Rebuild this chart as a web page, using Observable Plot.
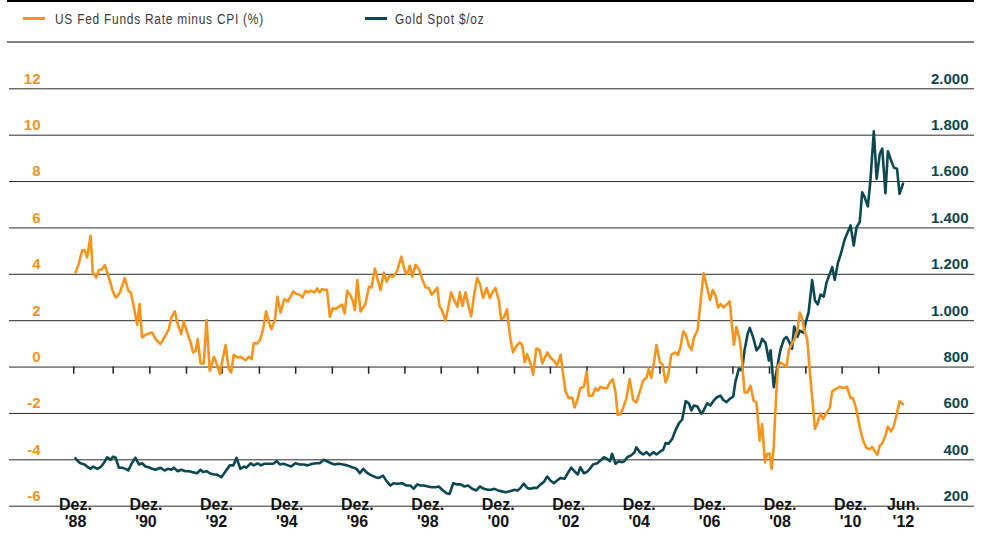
<!DOCTYPE html>
<html>
<head>
<meta charset="utf-8">
<script src="https://cdn.jsdelivr.net/npm/d3@7"></script>
<script src="https://cdn.jsdelivr.net/npm/@observablehq/plot@0.6"></script>
<style>
  body { margin: 0; background: #fff; }
  #wrap { position: relative; width: 984px; height: 542px; overflow: hidden; font-family: "Liberation Sans", Arial, sans-serif; }
  #topbar { position: absolute; left: 7px; right: 10px; top: 0; height: 2px; background: #000; }
  #legline { position: absolute; left: 7px; right: 10px; top: 41px; height: 2px; background: #808080; }
  .sw { position: absolute; top: 17px; width: 22px; height: 3px; }
  .lt { position: absolute; top: 10px; font-family: "Liberation Sans", Arial, sans-serif; font-size: 14px; letter-spacing: 0.9px; color: #3a3a3a; line-height: 18px; white-space: nowrap; transform: scaleX(0.85); transform-origin: 0 50%; }
  #chart { position: absolute; left: 0; top: 44px; }
</style>
</head>
<body>
<div id="wrap">
  <div id="topbar"></div>
  <div class="sw" style="left:23px;background:#f7941d"></div>
  <div class="lt" style="left:55px">US Fed Funds Rate minus CPI (%)</div>
  <div class="sw" style="left:365px;background:#0c4853"></div>
  <div class="lt" style="left:395px">Gold Spot $/oz</div>
  <div id="legline"></div>
  <div id="chart"></div>
</div>
<script>
const orange = "#f7941d";
const teal = "#0c4853";

// Left axis (rate, %) and right axis (gold, $/oz) tick labels
const leftTicks = [-6, -4, -2, 0, 2, 4, 6, 8, 10, 12];
const rightTickLabels = ["200", "400", "600", "800", "1.000", "1.200", "1.400", "1.600", "1.800", "2.000"];

// X axis labels (decimal years; Dez. = December)
const xLabelYears = [1988.92, 1990.92, 1992.92, 1994.92, 1996.92, 1998.92, 2000.92, 2002.92, 2004.92, 2006.92, 2008.92, 2010.92, 2012.42];
const xLabelTexts = ["Dez.\n'88", "Dez.\n'90", "Dez.\n'92", "Dez.\n'94", "Dez.\n'96", "Dez.\n'98", "Dez.\n'00", "Dez.\n'02", "Dez.\n'04", "Dez.\n'06", "Dez.\n'08", "Dez.\n'10", "Jun.\n'12"];

// Small tick marks on the zero line
const tickYears = [1988.87, 1989.99, 1991.03, 1992.07, 1993.08, 1994.14, 1995.17, 1996.21, 1997.24, 1998.27, 1999.30, 2000.34, 2001.38, 2002.40, 2003.44, 2004.48, 2005.51, 2006.55, 2007.58, 2008.62, 2009.65, 2010.68, 2011.72];

// US Fed Funds Rate minus CPI (%)
const rateYears = [1988.92,1989.01,1989.11,1989.18,1989.25,1989.35,1989.41,1989.51,1989.58,1989.68,1989.75,1989.87,1989.96,1990.03,1990.08,1990.18,1990.32,1990.42,1990.49,1990.58,1990.67,1990.74,1990.81,1990.91,1991.00,1991.10,1991.19,1991.33,1991.47,1991.57,1991.64,1991.74,1991.82,1991.92,1991.99,1992.09,1992.18,1992.26,1992.33,1992.39,1992.47,1992.56,1992.64,1992.73,1992.85,1992.94,1993.02,1993.08,1993.18,1993.27,1993.34,1993.41,1993.51,1993.60,1993.75,1993.84,1993.92,1993.98,1994.08,1994.17,1994.25,1994.33,1994.41,1994.48,1994.58,1994.65,1994.74,1994.85,1994.95,1995.10,1995.19,1995.29,1995.36,1995.45,1995.51,1995.59,1995.70,1995.78,1995.85,1995.92,1995.99,1996.06,1996.14,1996.22,1996.30,1996.39,1996.49,1996.56,1996.63,1996.73,1996.80,1996.85,1996.92,1997.01,1997.15,1997.25,1997.32,1997.42,1997.48,1997.58,1997.67,1997.75,1997.84,1997.94,1998.05,1998.17,1998.27,1998.34,1998.41,1998.48,1998.57,1998.67,1998.76,1998.86,1998.95,1999.03,1999.09,1999.19,1999.25,1999.33,1999.42,1999.50,1999.58,1999.66,1999.76,1999.83,1999.90,1999.99,2000.06,2000.15,2000.23,2000.32,2000.40,2000.49,2000.59,2000.68,2000.75,2000.84,2000.94,2001.00,2001.08,2001.17,2001.25,2001.34,2001.44,2001.53,2001.60,2001.67,2001.74,2001.84,2001.91,2002.00,2002.09,2002.17,2002.31,2002.40,2002.52,2002.59,2002.69,2002.76,2002.83,2002.92,2003.02,2003.09,2003.16,2003.25,2003.35,2003.43,2003.49,2003.59,2003.68,2003.75,2003.82,2003.92,2004.01,2004.09,2004.17,2004.25,2004.31,2004.39,2004.47,2004.56,2004.65,2004.75,2004.84,2004.94,2005.03,2005.13,2005.19,2005.26,2005.34,2005.41,2005.51,2005.58,2005.67,2005.74,2005.83,2005.95,2006.02,2006.09,2006.17,2006.24,2006.33,2006.41,2006.47,2006.58,2006.66,2006.75,2006.85,2006.93,2007.01,2007.09,2007.16,2007.23,2007.31,2007.40,2007.49,2007.54,2007.61,2007.68,2007.78,2007.84,2007.91,2007.99,2008.08,2008.17,2008.25,2008.34,2008.41,2008.49,2008.55,2008.62,2008.68,2008.74,2008.81,2008.86,2008.93,2009.03,2009.10,2009.17,2009.24,2009.33,2009.41,2009.48,2009.55,2009.61,2009.69,2009.76,2009.83,2009.91,2009.98,2010.07,2010.14,2010.24,2010.33,2010.40,2010.49,2010.62,2010.71,2010.82,2010.92,2010.99,2011.09,2011.18,2011.28,2011.37,2011.47,2011.53,2011.61,2011.68,2011.75,2011.82,2011.91,2011.98,2012.07,2012.15,2012.22,2012.31,2012.41];
const rateValues = [4.08,4.44,5.04,5.04,4.73,5.66,4.08,3.86,4.18,4.22,4.40,3.86,3.36,3.07,3.00,3.22,3.84,3.29,3.22,2.57,1.82,2.72,1.28,1.39,1.45,1.49,1.21,0.99,1.35,1.64,2.14,2.40,1.85,1.42,1.97,1.49,1.10,0.63,0.70,1.21,0.16,0.16,2.03,-0.16,0.44,0.10,-0.30,0.20,0.95,-0.09,-0.23,0.53,0.41,0.44,0.30,0.44,0.34,1.02,1.02,1.21,1.68,2.40,1.92,1.64,2.03,3.03,2.35,2.93,2.83,3.26,3.15,3.12,3.00,3.29,3.22,3.29,3.22,3.39,3.22,3.36,3.33,3.33,2.17,2.54,2.50,2.60,2.69,2.31,3.29,3.07,2.82,2.46,3.75,2.40,2.72,3.46,3.43,4.25,3.86,3.32,4.08,3.68,3.94,3.89,4.15,4.76,4.12,4.01,4.37,3.89,4.41,4.23,3.79,3.43,3.41,3.12,3.22,3.43,2.64,2.43,2.00,2.57,3.22,2.93,2.60,3.22,2.64,3.22,2.74,2.18,3.07,3.84,3.58,2.98,3.41,2.98,3.22,3.41,2.86,2.07,2.14,2.50,1.35,0.63,0.92,1.06,0.96,0.20,0.56,0.13,-0.33,0.80,0.75,0.16,0.63,0.41,0.24,0.06,0.53,-0.30,-1.05,-1.34,-1.31,-1.74,-1.45,-0.91,-0.85,-0.19,-1.24,-1.24,-0.91,-1.02,-0.85,-0.91,-0.91,-0.66,-0.52,-1.10,-2.06,-2.03,-1.74,-1.34,-0.52,-1.42,-1.53,-1.05,-0.59,-0.45,-0.09,-0.47,0.20,0.95,0.20,0.13,-0.66,-0.38,0.53,0.63,0.52,0.85,1.54,1.42,0.92,0.73,1.25,1.60,2.79,4.04,3.43,2.89,3.32,3.07,2.57,2.72,2.57,2.69,2.83,2.00,0.96,1.74,1.13,0.27,-1.10,-1.10,-0.81,-1.45,-1.53,-3.18,-2.46,-4.11,-3.75,-3.73,-4.40,-3.39,-1.16,0.06,0.20,0.10,0.01,0.73,0.96,1.21,1.57,2.35,2.07,1.57,1.20,-0.10,-1.30,-2.67,-2.40,-2.00,-2.24,-1.96,-1.77,-1.05,-0.95,-0.85,-0.91,-0.85,-1.34,-1.34,-1.86,-2.60,-3.18,-3.49,-3.54,-3.44,-3.64,-3.79,-3.39,-3.29,-2.96,-2.57,-2.78,-2.53,-2.10,-1.48,-1.60];

// Gold spot price ($/oz)
const goldYears = [1988.92,1988.99,1989.06,1989.18,1989.25,1989.35,1989.42,1989.54,1989.65,1989.72,1989.82,1989.91,1989.99,1990.06,1990.15,1990.25,1990.34,1990.42,1990.51,1990.62,1990.72,1990.81,1990.91,1991.00,1991.10,1991.19,1991.33,1991.45,1991.54,1991.64,1991.71,1991.82,1991.92,1992.04,1992.14,1992.23,1992.37,1992.47,1992.54,1992.64,1992.73,1992.85,1992.92,1993.06,1993.18,1993.30,1993.40,1993.49,1993.60,1993.70,1993.77,1993.89,1993.98,1994.09,1994.19,1994.28,1994.41,1994.53,1994.63,1994.72,1994.83,1994.95,1995.04,1995.16,1995.29,1995.40,1995.51,1995.64,1995.76,1995.85,1995.97,1996.06,1996.18,1996.27,1996.39,1996.52,1996.63,1996.77,1996.90,1996.99,1997.09,1997.19,1997.29,1997.44,1997.53,1997.65,1997.75,1997.86,1997.95,1998.07,1998.19,1998.32,1998.43,1998.52,1998.62,1998.71,1998.81,1998.92,1999.04,1999.14,1999.23,1999.33,1999.45,1999.54,1999.64,1999.75,1999.85,1999.96,2000.06,2000.18,2000.30,2000.40,2000.51,2000.62,2000.72,2000.81,2000.91,2001.00,2001.13,2001.22,2001.32,2001.38,2001.47,2001.55,2001.64,2001.74,2001.83,2001.93,2002.02,2002.12,2002.21,2002.31,2002.40,2002.50,2002.59,2002.69,2002.80,2002.89,2002.99,2003.08,2003.18,2003.25,2003.35,2003.43,2003.52,2003.61,2003.73,2003.82,2003.92,2004.01,2004.09,2004.15,2004.25,2004.34,2004.44,2004.50,2004.58,2004.69,2004.79,2004.84,2004.94,2005.03,2005.13,2005.22,2005.32,2005.41,2005.51,2005.60,2005.67,2005.76,2005.86,2005.95,2006.05,2006.14,2006.24,2006.33,2006.40,2006.47,2006.57,2006.68,2006.75,2006.85,2006.94,2007.04,2007.13,2007.23,2007.30,2007.40,2007.49,2007.59,2007.65,2007.75,2007.84,2007.91,2008.00,2008.06,2008.16,2008.25,2008.34,2008.41,2008.51,2008.60,2008.65,2008.74,2008.86,2008.93,2009.03,2009.10,2009.17,2009.26,2009.32,2009.41,2009.48,2009.58,2009.65,2009.73,2009.83,2009.91,2009.99,2010.07,2010.16,2010.24,2010.33,2010.40,2010.47,2010.56,2010.65,2010.75,2010.82,2010.92,2011.01,2011.09,2011.18,2011.25,2011.31,2011.41,2011.48,2011.58,2011.66,2011.75,2011.82,2011.91,2011.98,2012.07,2012.15,2012.24,2012.31,2012.41];
const goldValues = [407,394,385,380,371,361,371,361,371,385,411,400,414,409,366,366,361,354,383,409,380,385,371,368,361,357,366,354,361,357,366,351,357,351,351,347,342,357,347,351,342,337,337,325,351,376,376,409,361,371,366,385,376,385,376,383,383,383,394,380,383,376,371,385,380,380,376,383,385,385,400,394,385,380,383,380,376,368,361,342,361,345,335,325,322,332,308,289,299,297,299,289,289,275,294,289,289,285,282,282,285,271,256,253,299,294,294,285,289,275,268,285,275,271,271,275,268,265,260,263,268,271,268,278,297,279,275,279,279,294,304,328,311,299,311,322,318,342,366,351,337,368,342,347,361,380,385,397,411,404,394,426,383,394,390,394,411,419,433,454,433,423,433,419,433,423,435,443,472,470,491,527,558,573,653,644,613,634,630,599,613,644,634,656,670,677,659,649,663,673,735,793,785,872,944,969,926,872,889,922,903,828,872,713,817,875,920,930,912,879,975,930,957,948,994,1037,1175,1087,1070,1113,1104,1166,1202,1231,1176,1248,1291,1349,1375,1411,1324,1403,1425,1554,1536,1493,1597,1817,1612,1720,1742,1550,1731,1691,1660,1655,1547,1591];

const rate = rateYears.map((t, i) => ({t, v: rateValues[i]}));
// Right axis: 200..2000 $/oz aligned with left axis -6..12
const gold = goldYears.map((t, i) => ({t, v: (goldValues[i] - 200) / 100 - 6}));
const xLabels = xLabelYears.map((t, i) => ({t, text: xLabelTexts[i]}));
const rightTicks = leftTicks.map((v, i) => ({v, text: rightTickLabels[i]}));

const chart = Plot.plot({
  width: 984,
  height: 498,
  marginTop: 44,
  marginBottom: 36,
  marginLeft: 9,
  marginRight: 10,
  style: {fontFamily: '"Liberation Sans", Arial, sans-serif', background: "transparent", overflow: "visible"},
  x: {type: "linear", domain: [1988.92, 2012.42], range: [75, 902.9], axis: null},
  y: {domain: [-6, 12], range: [461.7, 44.3], axis: null},
  marks: [
    Plot.ruleY(leftTicks, {stroke: "#2a2a2a", strokeWidth: 1}),
    Plot.ruleX(tickYears, {x: d => d, y1: 0, y2: -0.31, stroke: "#222", strokeWidth: 1.5}),
    Plot.line(gold, {x: "t", y: "v", stroke: teal, strokeWidth: 2.6, strokeLinejoin: "round"}),
    Plot.line(rate, {x: "t", y: "v", stroke: orange, strokeWidth: 2.6, strokeLinejoin: "round"}),
    Plot.text(leftTicks, {y: d => d, text: d => String(d), frameAnchor: "left", dx: 31, dy: -10, textAnchor: "end", fill: orange, fontWeight: "bold", fontSize: 15}),
    Plot.text(rightTicks, {y: "v", text: "text", frameAnchor: "right", dx: -6, dy: -10, textAnchor: "end", fill: teal, fontWeight: "bold", fontSize: 15}),
    Plot.text(xLabels, {x: "t", text: "text", frameAnchor: "bottom", dy: 20, lineHeight: 1.04, fill: "#111", fontWeight: "bold", fontSize: 16})
  ]
});
chart.querySelectorAll("text").forEach(t => {
  const f = t.getAttribute("fill");
  if (f === teal) t.style.letterSpacing = "1px";
  if (f === orange) t.style.letterSpacing = "0.8px";
});
document.getElementById("chart").appendChild(chart);
</script>
</body>
</html>
